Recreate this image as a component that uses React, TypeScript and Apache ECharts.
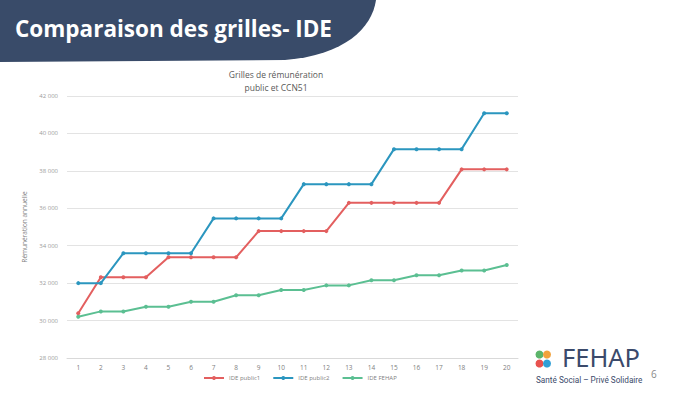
import React, { useEffect, useRef } from "react";
import * as echarts from "echarts";

const categories = ["1","2","3","4","5","6","7","8","9","10","11","12","13","14","15","16","17","18","19","20"];
const idePublic1 = [30390,32310,32310,32310,33380,33380,33380,33380,34780,34780,34780,34780,36290,36290,36290,36290,36290,38080,38080,38080];
const idePublic2 = [32000,32000,33600,33600,33600,33600,35460,35460,35460,35460,37290,37290,37290,37290,39160,39160,39160,39160,41080,41080];
const ideFehap = [30200,30490,30490,30740,30740,31010,31010,31350,31350,31630,31630,31880,31880,32150,32150,32420,32420,32680,32680,32970];
const seriesNames = ["IDE public1", "IDE public2", "IDE FEHAP"];
const seriesColors = ["#e35f5f", "#2b96bf", "#5bbf92"];

let registered = false;
function registerShapes() {
  if (registered) return;
  registered = true;
  echarts.graphic.registerShape(
    "headerShape",
    echarts.graphic.extendPath("M0 0 L376 0 C372 28 345 55 285 60 L0 62 Z", {})
  );
}

export default function App() {
  const ref = useRef<HTMLDivElement>(null);
  useEffect(() => {
    registerShapes();
    const chart = echarts.init(ref.current!, null, { renderer: "svg" });
    const data = [idePublic1, idePublic2, ideFehap];
    chart.setOption({
      animation: false,
      backgroundColor: "#ffffff",
      title: {
        text: "Grilles de rémunération\npublic et CCN51",
        left: 271,
        top: 63,
        textAlign: "center",
        textStyle: { fontFamily: "Open Sans", fontSize: 8.5, fontWeight: "normal", color: "#595959", lineHeight: 13 },
      },
      grid: { left: 67, right: 180, top: 96, bottom: 35, containLabel: false },
      xAxis: {
        type: "category",
        data: categories,
        boundaryGap: true,
        axisLine: { show: true, lineStyle: { color: "#d9d9d9" } },
        axisTick: { show: false },
        axisLabel: { color: "#808080", fontSize: 6.5, fontFamily: "Open Sans", margin: 6 },
      },
      yAxis: {
        type: "value",
        min: 28000,
        max: 42000,
        interval: 2000,
        name: "Rémunération annuelle",
        nameLocation: "middle",
        nameGap: 35,
        nameTextStyle: { color: "#808080", fontSize: 6.5, fontFamily: "Open Sans" },
        axisLine: { show: false },
        axisTick: { show: false },
        splitLine: { lineStyle: { color: "#e3e3e3", width: 1 } },
        axisLabel: {
          color: "#9a9a9a",
          fontSize: 6,
          fontFamily: "Open Sans",
          margin: 9,
          formatter: (v: number) => {
            const s = String(v);
            return s.slice(0, s.length - 3) + " " + s.slice(-3);
          },
        },
      },
      legend: {
        data: seriesNames,
        bottom: 7,
        left: 198,
        itemWidth: 20,
        itemHeight: 5,
        itemGap: 12,
        textStyle: { color: "#808080", fontSize: 6, fontFamily: "Open Sans" },
      },
      series: seriesNames.map((name, i) => ({
        name,
        type: "line",
        data: data[i],
        color: seriesColors[i],
        symbol: "circle",
        symbolSize: 4,
        lineStyle: { width: 2 },
      })),
      graphic: [
        { type: "headerShape", x: 0, y: 0, style: { fill: "#394b69" }, z: 10 },
        {
          type: "text",
          x: 15,
          y: 17,
          style: { text: "Comparaison des grilles- IDE", fill: "#ffffff", fontSize: 22.5, fontWeight: "bold", fontFamily: "Open Sans" },
          z: 11,
        },
        { type: "circle", shape: { cx: 539.5, cy: 354.5, r: 4 }, style: { fill: "#5cb46a" } },
        { type: "circle", shape: { cx: 547, cy: 354.5, r: 4 }, style: { fill: "#f2a23c" } },
        { type: "circle", shape: { cx: 539.5, cy: 363.5, r: 4 }, style: { fill: "#e8524f" } },
        { type: "circle", shape: { cx: 547, cy: 363.5, r: 4 }, style: { fill: "#2f9fd6" } },
        {
          type: "text",
          x: 562,
          y: 344,
          style: { text: "FEHAP", fill: "#3b4a6b", fontSize: 25.5, fontFamily: "Noto Sans" },
        },
        {
          type: "text",
          x: 536,
          y: 376,
          style: { text: "Santé Social – Privé Solidaire", fill: "#3b4a6b", fontSize: 8.2, fontFamily: "Roboto" },
        },
        {
          type: "text",
          x: 651,
          y: 369,
          style: { text: "6", fill: "#8a8a8a", fontSize: 10, fontFamily: "Open Sans" },
        },
      ],
    });
    return () => chart.dispose();
  }, []);
  return <div ref={ref} style={{ position: "fixed", left: 0, top: 0, width: 698, height: 393 }} />;
}
